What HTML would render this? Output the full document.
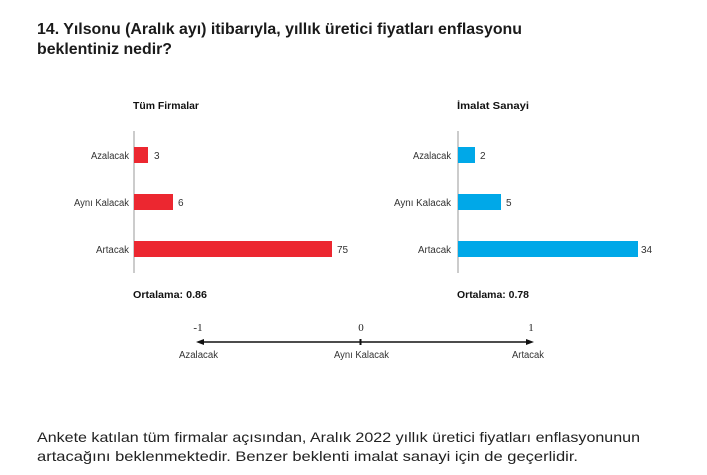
<!DOCTYPE html>
<html><head><meta charset="utf-8"><style>
html,body{margin:0;padding:0;background:#fff}
svg{display:block}
</style></head><body>
<svg width="707" height="475" viewBox="0 0 707 475" xmlns="http://www.w3.org/2000/svg" font-family="Liberation Sans, sans-serif">
<rect width="707" height="475" fill="#fff"/>
<g fill="#1a1a1a" font-weight="bold" font-size="16">
<text x="37" y="34" textLength="485" lengthAdjust="spacingAndGlyphs">14. Yılsonu (Aralık ayı) itibarıyla, yıllık üretici fiyatları enflasyonu</text>
<text x="37" y="54" textLength="135" lengthAdjust="spacingAndGlyphs">beklentiniz nedir?</text>
</g>
<text x="133" y="109" font-size="10" font-weight="bold" fill="#111" textLength="66" lengthAdjust="spacingAndGlyphs">Tüm Firmalar</text>
<line x1="134" y1="131" x2="134" y2="273" stroke="#999" stroke-width="1"/>
<rect x="134" y="147" width="14" height="16" fill="#ec2730"/>
<rect x="134" y="194" width="39" height="16" fill="#ec2730"/>
<rect x="134" y="241" width="198" height="16" fill="#ec2730"/>
<g font-size="10" fill="#333">
<text x="91" y="159" textLength="38" lengthAdjust="spacingAndGlyphs">Azalacak</text>
<text x="74" y="206" textLength="55" lengthAdjust="spacingAndGlyphs">Aynı Kalacak</text>
<text x="96" y="253" textLength="33" lengthAdjust="spacingAndGlyphs">Artacak</text>
</g>
<g font-size="10" fill="#333">
<text x="154" y="159">3</text>
<text x="178" y="206">6</text>
<text x="337" y="253">75</text>
</g>
<text x="133" y="298" font-size="10" font-weight="bold" fill="#111" textLength="74" lengthAdjust="spacingAndGlyphs">Ortalama: 0.86</text>
<text x="457" y="109" font-size="10" font-weight="bold" fill="#111" textLength="72" lengthAdjust="spacingAndGlyphs">İmalat Sanayi</text>
<line x1="458" y1="131" x2="458" y2="273" stroke="#999" stroke-width="1"/>
<rect x="458" y="147" width="17" height="16" fill="#00a8e8"/>
<rect x="458" y="194" width="43" height="16" fill="#00a8e8"/>
<rect x="458" y="241" width="180" height="16" fill="#00a8e8"/>
<g font-size="10" fill="#333">
<text x="413" y="159" textLength="38" lengthAdjust="spacingAndGlyphs">Azalacak</text>
<text x="394" y="206" textLength="57" lengthAdjust="spacingAndGlyphs">Aynı Kalacak</text>
<text x="418" y="253" textLength="33" lengthAdjust="spacingAndGlyphs">Artacak</text>
</g>
<g font-size="10" fill="#333">
<text x="480" y="159">2</text>
<text x="506" y="206">5</text>
<text x="641" y="253">34</text>
</g>
<text x="457" y="298" font-size="10" font-weight="bold" fill="#111" textLength="72" lengthAdjust="spacingAndGlyphs">Ortalama: 0.78</text>
<line x1="200" y1="342" x2="530" y2="342" stroke="#111" stroke-width="1.5"/>
<path d="M196 342 L204 339 L204 345 Z" fill="#111"/>
<path d="M534 342 L526 339 L526 345 Z" fill="#111"/>
<rect x="359.5" y="339" width="2" height="6" fill="#111"/>
<g font-family="Liberation Serif, serif" font-size="11" fill="#222" text-anchor="middle">
<text x="198" y="331">-1</text>
<text x="361" y="331">0</text>
<text x="531" y="331">1</text>
</g>
<g font-size="10" fill="#333">
<text x="179" y="358" textLength="39" lengthAdjust="spacingAndGlyphs">Azalacak</text>
<text x="334" y="358" textLength="55" lengthAdjust="spacingAndGlyphs">Aynı Kalacak</text>
<text x="512" y="358" textLength="32" lengthAdjust="spacingAndGlyphs">Artacak</text>
</g>
<g font-size="14" fill="#222">
<text x="37" y="442" textLength="603" lengthAdjust="spacingAndGlyphs">Ankete katılan tüm firmalar açısından, Aralık 2022 yıllık üretici fiyatları enflasyonunun</text>
<text x="37" y="461" textLength="541" lengthAdjust="spacingAndGlyphs">artacağını beklenmektedir. Benzer beklenti imalat sanayi için de geçerlidir.</text>
</g>
</svg>
</body></html>
